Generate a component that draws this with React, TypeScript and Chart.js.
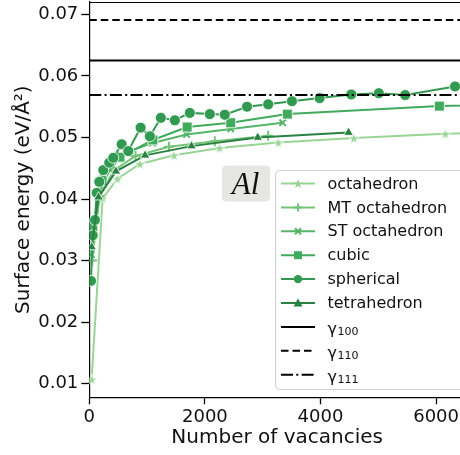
import React, { useEffect, useRef } from "react";
import { Chart, registerables } from "chart.js";

Chart.register(...registerables);

// ---------------- data ----------------
const octaX = [40, 231, 487, 876, 1466, 2252, 3268, 4577, 6161, 8500];
const octaY = [0.0107, 0.0401, 0.0433, 0.0457, 0.0471, 0.0483, 0.0492, 0.0499, 0.0506, 0.0512];

const mtX = [50, 180, 420, 800, 1377, 2171, 3095];
const mtY = [0.0300, 0.0405, 0.0446, 0.0470, 0.0485, 0.0494, 0.0503];

const stX = [35, 150, 390, 700, 1095, 1682, 2447, 3345];
const stY = [0.0310, 0.0405, 0.0455, 0.0478, 0.0491, 0.0505, 0.0514, 0.0524];

const cubicX = [60, 220, 530, 1100, 1693, 2447, 3427, 6057, 9000];
const cubicY = [0.0355, 0.0430, 0.0468, 0.0496, 0.0517, 0.0524, 0.0538, 0.0551, 0.0558];

const sphX = [29, 59, 98, 128, 173, 242, 345, 415, 560, 674, 888, 1048, 1238, 1480, 1739, 2085, 2344, 2729, 3095, 3506, 3985, 4532, 5009, 5465, 6328];
const sphY = [0.0267, 0.0341, 0.0366, 0.0410, 0.0428, 0.0447, 0.0459, 0.0467, 0.0489, 0.0478, 0.0516, 0.0502, 0.0532, 0.0528, 0.0540, 0.0538, 0.0537, 0.0550, 0.0554, 0.0559, 0.0564, 0.0570, 0.0572, 0.0569, 0.0583];

const tetX = [41, 159, 461, 965, 1769, 2914, 4485];
const tetY = [0.0322, 0.0403, 0.0445, 0.0471, 0.0486, 0.0500, 0.0508];

const gamma100 = 0.0625;
const gamma110 = 0.0691;
const gamma111 = 0.0569;

const seriesNames = ["octahedron", "MT octahedron", "ST octahedron", "cubic", "spherical", "tetrahedron"];
const gammaNames = ["100", "110", "111"];

const xTicks = [0, 2000, 4000, 6000];
const yTicks = [0.01, 0.02, 0.03, 0.04, 0.05, 0.06, 0.07];

const xMin = 0;
const xMax = 6500;
const yMin = 0.00778;
const yMax = 0.07202;

// ---------------- styles ----------------
const colors = ["#98d594", "#74c476", "#57b567", "#41ab5d", "#329a50", "#2a8144"];
const FONT = "DejaVu Sans";

function drawStarPath(ctx: CanvasRenderingContext2D, cx: number, cy: number, r: number) {
  const inner = r * 0.382;
  ctx.beginPath();
  for (let i = 0; i < 10; i++) {
    const rad = i % 2 === 0 ? r : inner;
    const a = -Math.PI / 2 + (i * Math.PI) / 5;
    const px = cx + rad * Math.cos(a);
    const py = cy + rad * Math.sin(a);
    if (i === 0) ctx.moveTo(px, py);
    else ctx.lineTo(px, py);
  }
  ctx.closePath();
}

function makeStarCanvas(color: string, r: number) {
  const c = document.createElement("canvas");
  const s = Math.ceil(2 * r + 4);
  c.width = s;
  c.height = s;
  const ctx = c.getContext("2d")!;
  drawStarPath(ctx, s / 2, s / 2 + r * 0.1, r);
  ctx.fillStyle = color;
  ctx.fill();
  ctx.strokeStyle = "#ffffff";
  ctx.lineWidth = 0.8;
  ctx.stroke();
  return c;
}

function drawMarker(ctx: CanvasRenderingContext2D, kind: string, cx: number, cy: number, color: string) {
  ctx.save();
  ctx.fillStyle = color;
  ctx.strokeStyle = color;
  if (kind === "star") {
    drawStarPath(ctx, cx, cy + 0.5, 5);
    ctx.fill();
  } else if (kind === "plus") {
    ctx.lineWidth = 2;
    ctx.beginPath();
    ctx.moveTo(cx - 4, cy);
    ctx.lineTo(cx + 4, cy);
    ctx.moveTo(cx, cy - 4);
    ctx.lineTo(cx, cy + 4);
    ctx.stroke();
  } else if (kind === "x") {
    ctx.lineWidth = 2;
    ctx.beginPath();
    ctx.moveTo(cx - 3, cy - 3);
    ctx.lineTo(cx + 3, cy + 3);
    ctx.moveTo(cx + 3, cy - 3);
    ctx.lineTo(cx - 3, cy + 3);
    ctx.stroke();
  } else if (kind === "square") {
    ctx.fillRect(cx - 4, cy - 4, 8, 8);
  } else if (kind === "circle") {
    ctx.beginPath();
    ctx.arc(cx, cy, 4.2, 0, Math.PI * 2);
    ctx.fill();
  } else if (kind === "triangle") {
    ctx.beginPath();
    ctx.moveTo(cx, cy - 4.5);
    ctx.lineTo(cx + 4.5, cy + 3.5);
    ctx.lineTo(cx - 4.5, cy + 3.5);
    ctx.closePath();
    ctx.fill();
  }
  ctx.restore();
}

function roundRect(ctx: CanvasRenderingContext2D, x: number, y: number, w: number, h: number, r: number) {
  ctx.beginPath();
  ctx.moveTo(x + r, y);
  ctx.lineTo(x + w - r, y);
  ctx.arcTo(x + w, y, x + w, y + r, r);
  ctx.lineTo(x + w, y + h - r);
  ctx.arcTo(x + w, y + h, x + w - r, y + h, r);
  ctx.lineTo(x + r, y + h);
  ctx.arcTo(x, y + h, x, y + h - r, r);
  ctx.lineTo(x, y + r);
  ctx.arcTo(x, y, x + r, y, r);
  ctx.closePath();
}

const markerKinds = ["star", "plus", "x", "square", "circle", "triangle"];
const gammaDashes: number[][] = [[], [7.5, 4], [12, 3.3, 2, 3.3]];

const overlayPlugin = {
  id: "overlay",
  afterDraw(chart: any) {
    const ctx: CanvasRenderingContext2D = chart.ctx;
    const area = chart.chartArea;
    ctx.save();
    // top spine
    ctx.strokeStyle = "#000";
    ctx.lineWidth = 1.2;
    ctx.beginPath();
    ctx.moveTo(area.left, area.top + 0.5);
    ctx.lineTo(area.right, area.top + 0.5);
    ctx.stroke();

    // "Al" label box
    roundRect(ctx, 222, 165.5, 48, 36, 4);
    ctx.fillStyle = "#e6e7e4";
    ctx.fill();
    ctx.fillStyle = "#111";
    ctx.font = 'italic 31px "Liberation Serif"';
    ctx.textAlign = "center";
    ctx.textBaseline = "alphabetic";
    ctx.fillText("Al", 245.5, 193.5);

    // legend box
    roundRect(ctx, 275.5, 170.5, 195, 219, 4);
    ctx.fillStyle = "rgba(255,255,255,0.85)";
    ctx.fill();
    ctx.strokeStyle = "#d0d0d0";
    ctx.lineWidth = 1;
    ctx.stroke();

    const x0 = 281;
    const x1 = 315;
    const textX = 327.5;
    const rowY0 = 183.5;
    const rowH = 23.9;
    ctx.textAlign = "left";
    ctx.textBaseline = "middle";
    for (let i = 0; i < seriesNames.length; i++) {
      const cy = rowY0 + i * rowH;
      ctx.strokeStyle = colors[i];
      ctx.lineWidth = 2;
      ctx.setLineDash([]);
      ctx.beginPath();
      ctx.moveTo(x0, cy);
      ctx.lineTo(x1, cy);
      ctx.stroke();
      drawMarker(ctx, markerKinds[i], (x0 + x1) / 2, cy, colors[i]);
      ctx.fillStyle = "#111";
      ctx.font = `16px "${FONT}"`;
      ctx.fillText(seriesNames[i], textX, cy + 1);
    }
    for (let j = 0; j < gammaNames.length; j++) {
      const cy = rowY0 + (seriesNames.length + j) * rowH;
      ctx.strokeStyle = "#000";
      ctx.lineWidth = 2;
      ctx.setLineDash(gammaDashes[j]);
      ctx.beginPath();
      ctx.moveTo(x0, cy);
      ctx.lineTo(x1, cy);
      ctx.stroke();
      ctx.setLineDash([]);
      ctx.fillStyle = "#111";
      ctx.textBaseline = "alphabetic";
      ctx.font = `16px "${FONT}"`;
      ctx.fillText("γ", textX, cy + 7.5);
      const gw = ctx.measureText("γ").width;
      ctx.font = `11px "${FONT}"`;
      ctx.fillText(gammaNames[j], textX + gw + 0.5, cy + 8);
      ctx.textBaseline = "middle";
    }
    ctx.restore();
  },
};

function pts(xs: number[], ys: number[]) {
  return xs.map((x, i) => ({ x, y: ys[i] }));
}

function fitY(scale: any) {
  scale.paddingTop = 0;
  scale.paddingBottom = 0;
  scale.width = 89.3;
}

function fitX(scale: any) {
  scale.paddingLeft = 0;
  scale.paddingRight = 0;
  scale.height = 57.7;
}

export default function App() {
  const canvasRef = useRef<HTMLCanvasElement | null>(null);

  useEffect(() => {
    const canvas = canvasRef.current!;
    const starImg = makeStarCanvas(colors[0], 6);
    const xsArr = [octaX, mtX, stX, cubicX, sphX, tetX];
    const ysArr = [octaY, mtY, stY, cubicY, sphY, tetY];
    const pointStyles: any[] = [starImg, "cross", "crossRot", "rect", "circle", "triangle"];
    const radii = [6, 5, 4.5, 7, 5.5, 5.5];
    const datasets: any[] = seriesNames.map((name, i) => {
      const lineMarker = i === 1 || i === 2;
      return {
        label: name,
        data: pts(xsArr[i], ysArr[i]),
        borderColor: colors[i],
        backgroundColor: colors[i],
        borderWidth: 2,
        pointStyle: pointStyles[i],
        pointRadius: radii[i],
        pointBackgroundColor: colors[i],
        pointBorderColor: lineMarker ? colors[i] : "#ffffff",
        pointBorderWidth: lineMarker ? 2 : 0.8,
        tension: 0,
        order: 20 - i,
      };
    });
    const gVals = [gamma100, gamma110, gamma111];
    gVals.forEach((g, j) => {
      datasets.push({
        label: "γ" + gammaNames[j],
        data: [
          { x: xMin, y: g },
          { x: xMax, y: g },
        ],
        borderColor: "#000",
        borderWidth: 2,
        borderDash: gammaDashes[j],
        pointRadius: 0,
        order: 5 - j,
      });
    });

    const chart = new Chart(canvas, {
      type: "line",
      data: { datasets },
      plugins: [overlayPlugin],
      options: {
        responsive: false,
        animation: false,
        events: [],
        layout: { autoPadding: false, padding: { top: 2, right: 1, left: 0, bottom: 0 } },
        plugins: {
          legend: { display: false },
          tooltip: { enabled: false },
        },
        scales: {
          x: {
            type: "linear",
            min: xMin,
            max: xMax,
            afterBuildTicks: (ax: any) => {
              ax.ticks = xTicks.map((v) => ({ value: v }));
            },
            afterFit: fitX,
            ticks: {
              font: { family: FONT, size: 18 },
              color: "#111",
              padding: 2,
              maxRotation: 0,
              autoSkip: false,
              callback: (v: any) => String(v),
            },
            grid: {
              display: true,
              drawOnChartArea: false,
              drawTicks: true,
              tickLength: 7,
              tickWidth: 1.3,
              color: "#000",
            },
            border: { display: true, color: "#000", width: 1.2 },
            title: {
              display: true,
              text: "Number of vacancies",
              font: { family: FONT, size: 20 },
              color: "#111",
              padding: { top: 0, bottom: 5 },
            },
          },
          y: {
            type: "linear",
            min: yMin,
            max: yMax,
            afterBuildTicks: (ax: any) => {
              ax.ticks = yTicks.map((v) => ({ value: v }));
            },
            afterFit: fitY,
            ticks: {
              font: { family: FONT, size: 18 },
              color: "#111",
              padding: 3,
              autoSkip: false,
              callback: (v: any) => Number(v).toFixed(2),
            },
            grid: {
              display: true,
              drawOnChartArea: false,
              drawTicks: true,
              tickLength: 8,
              tickWidth: 1.3,
              color: "#000",
            },
            border: { display: true, color: "#000", width: 1.2 },
            title: {
              display: true,
              text: "Surface energy (eV/Å²)",
              font: { family: FONT, size: 20 },
              color: "#111",
              padding: { top: 12, bottom: 0 },
            },
          },
        },
      },
    });
    return () => chart.destroy();
  }, []);

  return (
    <div style={{ position: "fixed", left: 0, top: 0, width: 460, height: 455, overflow: "hidden", background: "#fff" }}>
      <canvas ref={canvasRef} width={466} height={455} style={{ display: "block", width: 466, height: 455 }} />
    </div>
  );
}
